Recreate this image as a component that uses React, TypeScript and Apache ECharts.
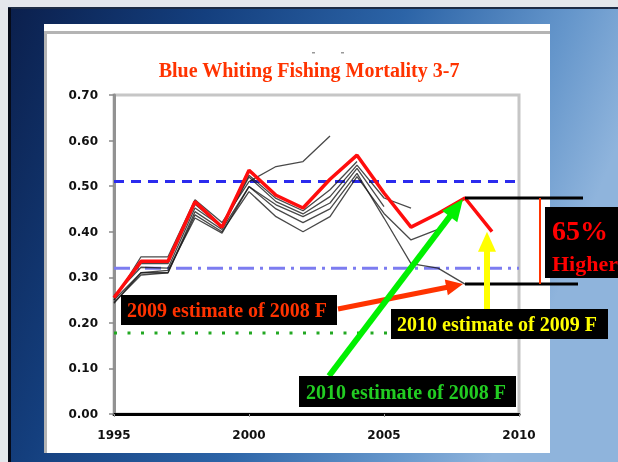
import React, { useEffect, useRef } from "react";
import * as echarts from "echarts";

// ---- data ----
const years = [1995, 1996, 1997, 1998, 1999, 2000, 2001, 2002, 2003, 2004, 2005, 2006, 2007, 2008, 2009];
// 2010 assessment (red, thick)
const assess2010 = [0.255, 0.335, 0.335, 0.466, 0.41, 0.535, 0.48, 0.452, 0.515, 0.568, 0.485, 0.41, 0.44, 0.474, 0.40];
// earlier assessments (black, thin), each ending at its terminal year
const retro2003 = [0.25, 0.345, 0.345, 0.47, 0.42, 0.51, 0.543, 0.554, 0.61];
const retro2004 = [0.26, 0.322, 0.32, 0.452, 0.411, 0.524, 0.473, 0.446, 0.492, 0.554];
const retro2005 = [0.25, 0.31, 0.31, 0.444, 0.405, 0.499, 0.459, 0.433, 0.463, 0.539, 0.455];
const retro2006 = [0.255, 0.33, 0.33, 0.46, 0.41, 0.52, 0.466, 0.439, 0.477, 0.546, 0.474, 0.452];
const retro2007 = [0.245, 0.305, 0.31, 0.437, 0.40, 0.488, 0.433, 0.40, 0.433, 0.521, 0.44, 0.382, 0.405];
const retro2008 = [0.243, 0.31, 0.315, 0.43, 0.397, 0.499, 0.45, 0.42, 0.45, 0.528, 0.43, 0.33, 0.32, 0.285];
// reference levels
const refYears = [1995, 2010];
const fHigh = 0.51; // blue dashed
const fMid = 0.32; // blue dash-dot
const fLow = 0.178; // green dotted
const yTicks = [0, 0.1, 0.2, 0.3, 0.4, 0.5, 0.6, 0.7];
const xTicks = [1995, 2000, 2005, 2010];

const labels = {
  title: "Blue Whiting Fishing Mortality 3-7",
  red: "2009 estimate of 2008 F",
  green: "2010 estimate of 2008 F",
  yellow: "2010 estimate of 2009 F",
  pct: "65%",
  higher: "Higher",
};

const SERIF = "'Liberation Serif', 'Times New Roman', serif";

const toPairs = (arr: number[]) => arr.map((v, i) => [years[i], v]);

function arrow(x1: number, y1: number, x2: number, y2: number, color: string, w: number, hl: number, hw: number) {
  const dx = x2 - x1;
  const dy = y2 - y1;
  const len = Math.sqrt(dx * dx + dy * dy);
  const ux = dx / len;
  const uy = dy / len;
  const bx = x2 - ux * hl;
  const by = y2 - uy * hl;
  const nx = -uy;
  const ny = ux;
  return [
    { type: "line", z: 100, shape: { x1, y1, x2: bx + ux * 1, y2: by + uy * 1 }, style: { stroke: color, lineWidth: w } },
    {
      type: "polygon",
      z: 100,
      shape: { points: [[x2, y2], [bx + (nx * hw) / 2, by + (ny * hw) / 2], [bx - (nx * hw) / 2, by - (ny * hw) / 2]] },
      style: { fill: color },
    },
  ];
}

export default function App() {
  const ref = useRef<HTMLDivElement>(null);
  useEffect(() => {
    if (!ref.current) return;
    const chart = echarts.init(ref.current, null, { renderer: "svg" });
    const retro = [retro2003, retro2004, retro2005, retro2006, retro2007, retro2008];
    const series: any[] = [];
    const refLine = (v: number, color: string, type: any, width: number) => ({
      type: "line",
      data: refYears.map((y) => [y, v]),
      symbol: "none",
      silent: true,
      lineStyle: { color, type, width, cap: "butt" },
      z: 1,
    });
    series.push(refLine(fHigh, "#2b2bee", [10, 7], 3));
    series.push(refLine(fMid, "#7c7cf0", [16, 6, 3, 6], 3));
    series.push(refLine(fLow, "#22a822", [3, 10.5], 3));
    retro.forEach((arr) =>
      series.push({
        type: "line",
        data: toPairs(arr),
        symbol: "none",
        lineStyle: { color: "#1c1c1c", width: 1.3, opacity: 0.8 },
        z: 3,
      })
    );
    series.push({
      type: "line",
      data: toPairs(assess2010),
      symbol: "none",
      lineStyle: { color: "#ff0d0d", width: 3.5 },
      z: 4,
    });

    chart.setOption({
      animation: false,
      grid: { left: 114, right: 99, top: 95, bottom: 48, show: true, borderColor: "#c6c6c6", borderWidth: 3, backgroundColor: "transparent" },
      xAxis: {
        type: "value",
        min: xTicks[0],
        max: xTicks[xTicks.length - 1],
        interval: 5,
        splitLine: { show: false },
        axisLine: { lineStyle: { color: "#000", width: 3 } },
        axisTick: { show: true, length: 3, lineStyle: { color: "#999" } },
        axisLabel: { margin: 15, fontSize: 12, fontWeight: "bold", color: "#111", fontFamily: "'DejaVu Sans', sans-serif", formatter: (v: number) => String(v) },
      },
      yAxis: {
        type: "value",
        min: yTicks[0],
        max: yTicks[yTicks.length - 1],
        interval: 0.1,
        splitLine: { show: false },
        axisLine: { show: true, lineStyle: { color: "#929292", width: 3 } },
        axisTick: { show: true, length: 5, lineStyle: { color: "#888", width: 1.5 } },
        axisLabel: { margin: 16, fontSize: 12, fontWeight: "bold", color: "#111", fontFamily: "'DejaVu Sans', sans-serif", formatter: (v: number) => v.toFixed(2) },
      },
      series,
    });

    const px = (year: number, v: number) => chart.convertToPixel({ gridIndex: 0 }, [year, v]) as number[];
    const p08 = px(2008, assess2010[13]);
    const p09 = px(2009, assess2010[14]);
    const q08 = px(2008, retro2008[13]);

    const bg: any[] = [
      { type: "rect", z: -100, shape: { x: 0, y: 0, width: 618, height: 462 }, style: { fill: "#e4e7ec" } },
      {
        type: "rect",
        z: -99,
        shape: { x: 8, y: 8, width: 610, height: 454 },
        style: {
          fill: new echarts.graphic.LinearGradient(0, 0, 1, 0.3, [
            { offset: 0, color: "#0b1f4c" },
            { offset: 0.3, color: "#143f7e" },
            { offset: 0.6, color: "#2c64a7" },
            { offset: 0.85, color: "#6596cb" },
            { offset: 1, color: "#8fb4dc" },
          ]),
        },
      },
      { type: "rect", z: -98, shape: { x: 8, y: 7, width: 610, height: 2 }, style: { fill: "#1d2c46" } },
      { type: "rect", z: -98, shape: { x: 8, y: 8, width: 3, height: 454 }, style: { fill: "#050a18" } },
      { type: "rect", z: -97, shape: { x: 44, y: 24, width: 506, height: 429 }, style: { fill: "#ffffff" } },
      { type: "rect", z: -96, shape: { x: 44, y: 31, width: 506, height: 3 }, style: { fill: "#b4b4b4" } },
      { type: "rect", z: -96, shape: { x: 44, y: 31, width: 3, height: 422 }, style: { fill: "#b4b4b4" } },
      { type: "rect", z: -96, shape: { x: 312, y: 52, width: 3, height: 1.5 }, style: { fill: "#999" } },
      { type: "rect", z: -96, shape: { x: 341, y: 52, width: 3, height: 1.5 }, style: { fill: "#999" } },
      {
        type: "text",
        z: -90,
        x: 309,
        y: 70,
        style: { text: labels.title, fill: "#ff3300", font: `bold 20px ${SERIF}`, textAlign: "center", textVerticalAlign: "middle" },
      },
    ];

    const ann: any[] = [
      // black level lines
      { type: "line", z: 90, shape: { x1: p08[0], y1: p08[1], x2: 583, y2: p08[1] }, style: { stroke: "#000", lineWidth: 3 } },
      { type: "line", z: 90, shape: { x1: q08[0], y1: q08[1], x2: 578, y2: q08[1] }, style: { stroke: "#000", lineWidth: 3 } },
      { type: "line", z: 90, shape: { x1: 540, y1: p08[1], x2: 540, y2: q08[1] }, style: { stroke: "#ff3300", lineWidth: 2 } },
      // red box
      { type: "rect", z: 95, shape: { x: 121, y: 295, width: 216, height: 30 }, style: { fill: "#000" } },
      { type: "text", z: 96, x: 127, y: 310, style: { text: labels.red, fill: "#ff3300", font: `bold 20px ${SERIF}`, textAlign: "left", textVerticalAlign: "middle" } },
      ...arrow(338, 309, q08[0] - 2, q08[1], "#ff3300", 5, 17, 16),
      ...arrow(329, 376, p08[0] - 2, p08[1] + 1, "#00f000", 6, 22, 19),
      ...arrow(487, 309, 487, p09[1], "#ffff00", 6, 20, 18),
      // green box
      { type: "rect", z: 101, shape: { x: 299, y: 376, width: 217, height: 31 }, style: { fill: "#000" } },
      { type: "text", z: 102, x: 306, y: 392, style: { text: labels.green, fill: "#22cc22", font: `bold 20px ${SERIF}`, textAlign: "left", textVerticalAlign: "middle" } },
      // yellow box
      { type: "rect", z: 101, shape: { x: 391, y: 309, width: 217, height: 30 }, style: { fill: "#000" } },
      { type: "text", z: 102, x: 397, y: 324, style: { text: labels.yellow, fill: "#ffff00", font: `bold 20px ${SERIF}`, textAlign: "left", textVerticalAlign: "middle" } },
      // 65% box
      { type: "rect", z: 101, shape: { x: 545, y: 207, width: 90, height: 71 }, style: { fill: "#000" } },
      { type: "text", z: 102, x: 552, y: 230, style: { text: labels.pct, fill: "#ff0000", font: `bold 28px ${SERIF}`, textAlign: "left", textVerticalAlign: "middle" } },
      { type: "text", z: 102, x: 552, y: 263, style: { text: labels.higher, fill: "#ff0000", font: `bold 22px ${SERIF}`, textAlign: "left", textVerticalAlign: "middle" } },
    ];

    chart.setOption({ graphic: { elements: [...bg, ...ann] } });
    return () => chart.dispose();
  }, []);
  return <div ref={ref} style={{ position: "fixed", left: 0, top: 0, width: 618, height: 462 }} />;
}
